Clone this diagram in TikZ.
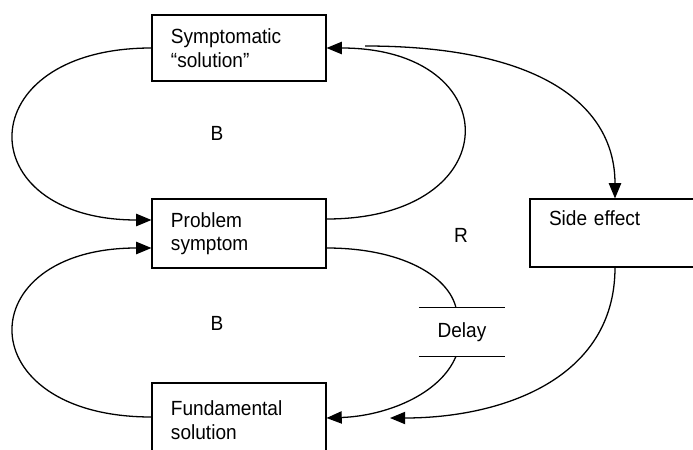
\documentclass[tikz,border=0pt]{standalone}
\usepackage{fontspec}
\setmainfont{Liberation Sans}[FakeStretch=0.93]
\usetikzlibrary{arrows.meta,calc}

\begin{document}
\begin{tikzpicture}[x=0.03cm,y=-0.03cm,
    box/.style={draw,line width=0.9pt,minimum height=1.98cm,inner xsep=0.57cm,
      align=left,font=\fontsize{17.5}{20}\selectfont},
    lbl/.style={font=\fontsize{17.5}{20}\selectfont},
    link/.style={line width=1.1pt},
    arr/.style={link,-{Triangle[length=13pt,width=10.5pt]}}]

\clip (0,0) rectangle (693,450);

\node[box,text width=4.08cm] (sympt) at (239,48) {Symptomatic\\``solution''};
\node[box,text width=4.08cm,minimum height=2.07cm] (prob) at (239,233.5) {Problem\\symptom};
\node[box,text width=4.08cm,minimum height=2.22cm] (fund) at (239,420) {Fundamental\\solution};
\node[box,text width=3.96cm,minimum height=2.04cm] (side) at (615,233) {Side effect\\ \strut};
\node[lbl,minimum width=2.58cm,minimum height=1.44cm] (delay) at (462,332) {Delay};
\draw[line width=0.9pt] (delay.north west) -- (delay.north east);
\draw[line width=0.9pt] (delay.south west) -- (delay.south east);

\node[lbl] (b1) at (217,133) {B};
\node[lbl] (r) at (461,235) {R};
\node[lbl] (b2) at (217,323) {B};

\coordinate (start) at (365,46);

% balancing loop, top
\draw[arr] (sympt.west) .. controls (-32,48) and (-32,220) .. ($(prob.west)+(0,-13.5)$);
\draw[arr] ($(prob.east)+(0,-14.5)$) .. controls (509,219) and (509,48) .. (sympt.east);
% balancing loop, bottom
\draw[arr] ($(fund.west)+(0,-3)$) .. controls (-32,417) and (-32,248) .. ($(prob.west)+(0,14.5)$);
\draw[link] ($(prob.east)+(0,14.5)$) .. controls (400,248) and (448,275) .. ($(delay.north)+(-6,0)$);
\draw[arr] ($(delay.south)+(-6,0)$) .. controls (440,395) and (385,416) .. ($(fund.east)+(0,-2)$);
% side effect
\draw[arr] (start) .. controls (540,46) and (615,105) .. (side.north);
\draw[arr] (side.south) .. controls (615,380) and (500,418) .. (390,418);
\end{tikzpicture}
\end{document}
